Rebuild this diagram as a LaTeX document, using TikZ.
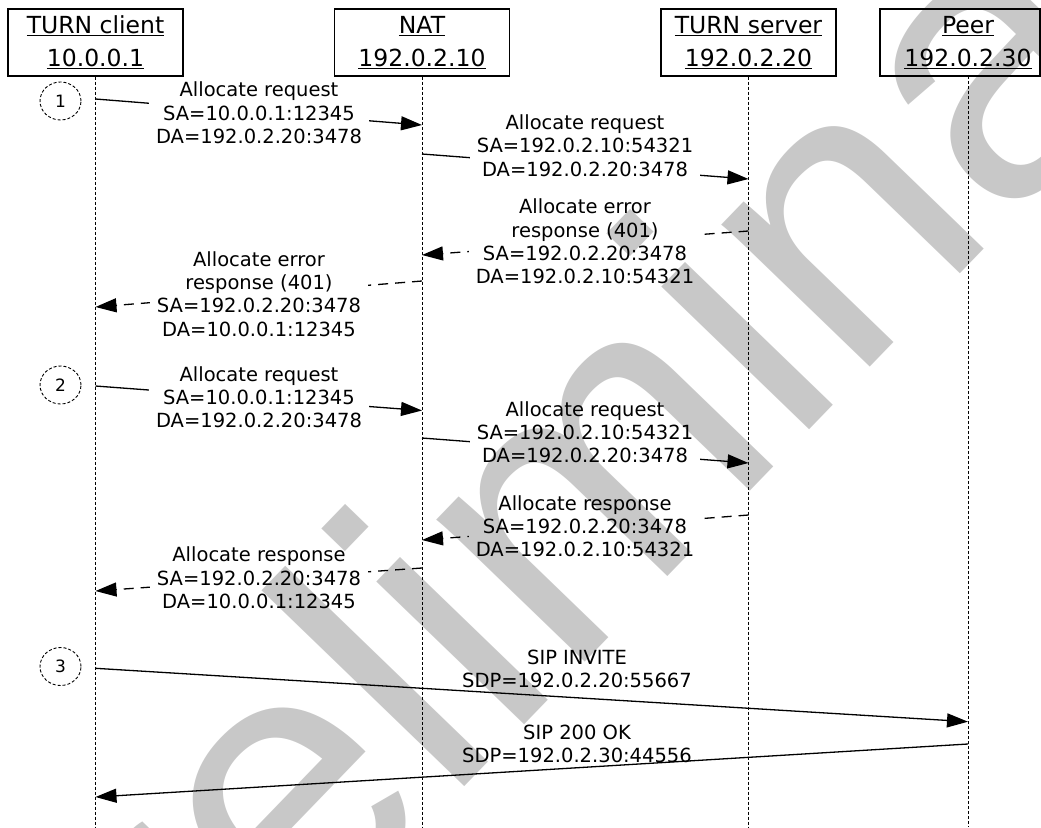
\documentclass[tikz,border=0pt]{standalone}
\usepackage{fontspec}
\setmainfont{DejaVu Sans}
\newfontfamily\wmfont{Liberation Sans}
\usetikzlibrary{arrows.meta,shapes.geometric}
\newcommand\myul[1]{\leavevmode\setbox0\hbox{#1}\rlap{\rule[-3pt]{\wd0}{1pt}}\box0}
\tikzset{
  actor/.style={draw, line width=1.2pt, minimum width=175pt, minimum height=67pt, inner sep=0pt,
    align=center, font=\fontsize{23.5}{33}\selectfont},
  actortext/.style={inner sep=0pt, align=center, font=\fontsize{23.5}{33}\selectfont},
  life/.style={line width=0.9pt, dash pattern=on 3pt off 2pt},
  msg/.style={line width=1.3pt, -{Triangle[length=21pt,width=14pt]}},
  resp/.style={msg, dash pattern=on 10pt off 7pt},
  lbl/.style={fill=white, inner xsep=7pt, inner ysep=0pt, align=center, anchor=north,
    font=\fontsize{19.5}{23.3}\selectfont},
  stepc/.style={draw, ellipse, line width=0.9pt, dash pattern=on 3pt off 2pt,
    minimum width=41pt, minimum height=38pt, inner sep=0pt, font=\fontsize{17}{20}\selectfont},
  wm/.style={rotate=46, anchor=base west, inner sep=0pt, text=black, text opacity=0.215,
    font=\wmfont\fontsize{389}{389}\selectfont}
}
\begin{document}
\begin{tikzpicture}[x=1pt,y=-1pt]
\useasboundingbox (0,0) rectangle (1041,827);
\clip (0,0) rectangle (1041,827);
% actors
\node[actor] (cl) at (95.5,42.5) {\myul{TURN client}\\\myul{10.0.0.1}};
\node[actor] (nat) at (422,42.5) {\myul{NAT}\\\myul{192.0.2.10}};
\node[actor] (srv) at (748.5,42.5) {\myul{TURN server}\\\myul{192.0.2.20}};
\node[actor, minimum width=160pt] (peerbox) at (960,42.5) {};
\node[actortext] (peer) at (968,42.5) {\myul{Peer}\\\myul{192.0.2.30}};
% lifelines
\coordinate (clend) at (95.5,827);
\coordinate (natend) at (422,827);
\coordinate (srvend) at (748.5,827);
\coordinate (peertop) at (968,76);
\coordinate (peerend) at (968,827);
\draw[life] (cl.south) -- (clend);
\draw[life] (nat.south) -- (natend);
\draw[life] (srv.south) -- (srvend);
\draw[life] (peertop) -- (peerend);
% step markers
\node[stepc] (s1) at (60.5,101) {1};
\node[stepc] (s2) at (60.5,385) {2};
\node[stepc] (s3) at (60.5,666.5) {3};
% message end points
\coordinate (m1a) at (95.5,99);   \coordinate (m1b) at (422,125);
\coordinate (m2a) at (422,154);   \coordinate (m2b) at (748.5,179);
\coordinate (m3a) at (748.5,231); \coordinate (m3b) at (422,255);
\coordinate (m4a) at (422,281);   \coordinate (m4b) at (95.5,307);
\coordinate (m5a) at (95.5,386);  \coordinate (m5b) at (422,410.5);
\coordinate (m6a) at (422,438);   \coordinate (m6b) at (748.5,463);
\coordinate (m7a) at (748.5,515); \coordinate (m7b) at (422,540);
\coordinate (m8a) at (422,568);   \coordinate (m8b) at (95.5,591);
\coordinate (m9a) at (95.5,668.3); \coordinate (m9b) at (968,721.7);
\coordinate (m10a) at (968,744);  \coordinate (m10b) at (95.5,797);
\draw[msg] (m1a) -- (m1b);
\draw[msg] (m2a) -- (m2b);
\draw[resp] (m3a) -- (m3b);
\draw[resp] (m4a) -- (m4b);
\draw[msg] (m5a) -- (m5b);
\draw[msg] (m6a) -- (m6b);
\draw[resp] (m7a) -- (m7b);
\draw[resp] (m8a) -- (m8b);
\draw[msg] (m9a) -- (m9b);
\draw[msg] (m10a) -- (m10b);
% labels (anchor north = first baseline - 16.3)
\node[lbl] (l1) at (259,80.4) {\strut Allocate request\\SA=10.0.0.1:12345\\DA=192.0.2.20:3478};
\node[lbl] (l2) at (585,113) {\strut Allocate request\\SA=192.0.2.10:54321\\DA=192.0.2.20:3478};
\node[lbl] (l3) at (585,197.2) {\strut Allocate error\\response (401)\\SA=192.0.2.20:3478\\DA=192.0.2.10:54321};
\node[lbl] (l4) at (259,249.7) {\strut Allocate error\\response (401)\\SA=192.0.2.20:3478\\DA=10.0.0.1:12345};
\node[lbl] (l5) at (259,364.7) {\strut Allocate request\\SA=10.0.0.1:12345\\DA=192.0.2.20:3478};
\node[lbl] (l6) at (585,399.7) {\strut Allocate request\\SA=192.0.2.10:54321\\DA=192.0.2.20:3478};
\node[lbl] (l7) at (585,493.7) {\strut Allocate response\\SA=192.0.2.20:3478\\DA=192.0.2.10:54321};
\node[lbl] (l8) at (259,545.4) {\strut Allocate response\\SA=192.0.2.20:3478\\DA=10.0.0.1:12345};
\node[lbl, fill=none] (l9) at (577,647.7) {\strut SIP INVITE\\SDP=192.0.2.20:55667};
\node[lbl, fill=none] (l10) at (577,722.7) {\strut SIP 200 OK\\SDP=192.0.2.30:44556};
% watermark
\node[wm] (mark) at (56,1210) {preliminary};
\end{tikzpicture}
\end{document}
